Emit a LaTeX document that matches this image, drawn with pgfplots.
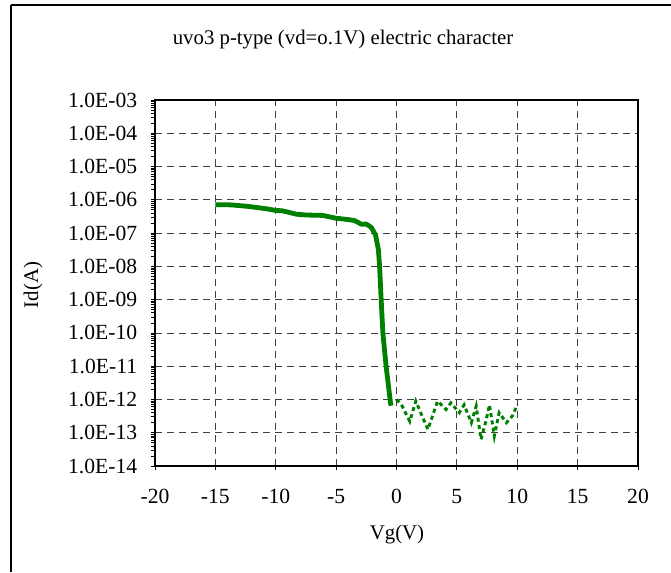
\documentclass[border=0pt]{standalone}
\usepackage{pgfplots}
\pgfplotsset{compat=1.18}
\usepackage{fontspec}
\setmainfont{Liberation Serif}
\definecolor{cgreen}{HTML}{008000}
\begin{document}
\begin{tikzpicture}
\fontsize{15.6pt}{18pt}\selectfont
\path[use as bounding box] (0pt,0pt) rectangle (503.25pt,-429pt);
\draw[line width=1.3pt] (8.25pt,-3.75pt) -- (503.25pt,-3.75pt);
\draw[line width=1.3pt] (8.25pt,-3.75pt) -- (8.25pt,-429pt);
\node at (257.25pt,-30pt) {uvo3 p-type (vd=o.1V) electric character};
\node[rotate=90] at (24.75pt,-213.75pt) {Id(A)};
\node at (297.75pt,-401.25pt) {Vg(V)};
\begin{axis}[
  at={(116.25pt,-349.5pt)}, anchor=south west,
  scale only axis, width=362.25pt, height=274.5pt,
  xmin=-20, xmax=20, ymode=log, ymin=1e-14, ymax=1e-3,
  xtick={-20,-15,...,20},
  ytick={1e-14,1e-13,1e-12,1e-11,1e-10,1e-9,1e-8,1e-7,1e-6,1e-5,1e-4,1e-3},
  yticklabels={1.0E-14,1.0E-13,1.0E-12,1.0E-11,1.0E-10,1.0E-09,1.0E-08,1.0E-07,1.0E-06,1.0E-05,1.0E-04,1.0E-03},
  minor tick num=0, log ticks with fixed point=false,
  /pgf/number format/assume math mode=true,
  ticklabel style={font=\fontsize{16.2pt}{18pt}\selectfont},
  xticklabel style={yshift=-9pt},
  yticklabel style={xshift=-5pt},
  tick pos=left,
  tick align=outside, major tick length=3pt,
  tick style={black, line width=0.6pt},
  axis line style={black, line width=0.8pt},
  grid=major,
  major grid style={black!75, line width=0.6pt, dash pattern=on 5pt off 4pt},
  clip=false,
]
\addplot[cgreen, line width=3.6pt, line join=round] coordinates {
(-15,7.1e-7) (-14,7.1e-7) (-13.6,7.0e-7) (-12.2,6.3e-7) (-10.8,5.4e-7)
(-10,4.8e-7) (-9.5,4.7e-7) (-8.9,4.2e-7) (-8.3,3.7e-7) (-7.5,3.5e-7)
(-6.1,3.4e-7) (-5,2.8e-7) (-4.2,2.6e-7) (-3.5,2.4e-7) (-2.9,1.85e-7)
(-2.5,1.87e-7) (-2.1,1.5e-7) (-1.74,8.9e-8) (-1.5,3.2e-8) (-1.4,1e-8)
(-1.27,1e-9) (-1.13,1e-10) (-0.86,1e-11) (-0.5,8e-13) (-0.45,6.5e-13)
};
\addplot[cgreen, line width=2.2pt, dash pattern=on 3pt off 2.5pt] coordinates {
(0,1e-12) (0.4,7.1e-13) (1.1,2.2e-13) (1.6,8.9e-13) (2.0,4.0e-13)
(2.6,1.26e-13) (3.4,8.9e-13) (4.1,5.0e-13) (4.5,7.9e-13) (5.2,4.0e-13)
(5.6,6.9e-13) (6.2,2.0e-13) (6.6,6.3e-13) (7.0,6.3e-14) (7.4,2.2e-13)
(7.7,6.9e-13) (8.1,7.9e-14) (8.5,4.0e-13) (9.1,2.0e-13) (9.6,3.2e-13)
(10.0,6.9e-13)
};
\end{axis}
\end{tikzpicture}
\end{document}
